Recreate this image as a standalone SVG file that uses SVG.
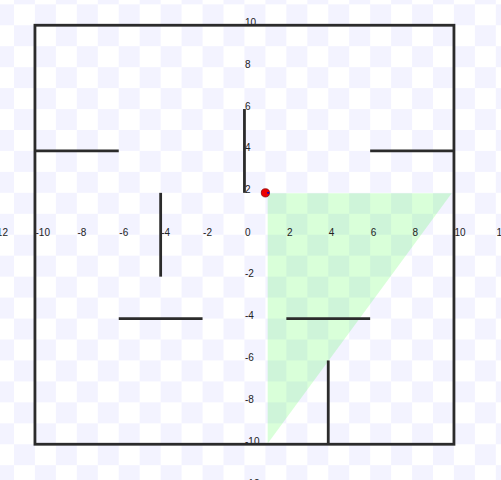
<svg xmlns="http://www.w3.org/2000/svg" width="501" height="480" viewBox="0 0 501 480">
<style>
.wall{stroke:#2b2b2b;stroke-width:2.8;fill:none;stroke-linecap:butt}
.lbl{font-family:"Liberation Sans",Arial,sans-serif;font-size:10px;fill:#222}
</style>
<defs>
<pattern id="checker" patternUnits="userSpaceOnUse" x="244.45" y="192.85" width="41.9" height="41.9">
<rect x="0" y="0" width="41.9" height="41.9" fill="#ffffff"/>
<rect x="20.95" y="0" width="20.95" height="20.95" fill="#f3f3ff"/>
<rect x="0" y="20.95" width="20.95" height="20.95" fill="#f3f3ff"/>
</pattern>
</defs>
<rect id="background" x="0" y="0" width="501" height="480" fill="url(#checker)"/>
<g id="view-cone">
<polygon points="267.7,193.3 451.7,193.3 267.7,443.5" fill="#00ff00" fill-opacity="0.15"/>
</g>
<g id="labels" class="lbl">
<text x="-6.5" y="235.5">-12</text>
<text x="35.5" y="235.5">-10</text>
<text x="77.4" y="235.5">-8</text>
<text x="119.3" y="235.5">-6</text>
<text x="161.2" y="235.5">-4</text>
<text x="203.1" y="235.5">-2</text>
<text x="245" y="235.5">0</text>
<text x="286.9" y="235.5">2</text>
<text x="328.8" y="235.5">4</text>
<text x="370.7" y="235.5">6</text>
<text x="412.6" y="235.5">8</text>
<text x="454.5" y="235.5">10</text>
<text x="496.4" y="235.5">12</text>
<text x="245" y="25.75">10</text>
<text x="245" y="67.65">8</text>
<text x="245" y="109.55">6</text>
<text x="245" y="151.45">4</text>
<text x="245" y="193.35">2</text>
<text x="245" y="277.15">-2</text>
<text x="245" y="319.05">-4</text>
<text x="245" y="360.95">-6</text>
<text x="245" y="402.85">-8</text>
<text x="245" y="444.75">-10</text>
<text x="245" y="486.65">-12</text>
</g>
<g id="walls" class="wall">
<rect id="boundary" x="34.95" y="25.25" width="419" height="419"/>
<line id="wall-left-top" x1="34.95" y1="150.95" x2="118.75" y2="150.95"/>
<line id="wall-right-top" x1="370.15" y1="150.95" x2="453.95" y2="150.95"/>
<line id="wall-center-top" x1="244.45" y1="109.05" x2="244.45" y2="192.85"/>
<line id="wall-left-mid" x1="160.65" y1="192.85" x2="160.65" y2="276.65"/>
<line id="wall-left-low" x1="118.75" y1="318.55" x2="202.55" y2="318.55"/>
<line id="wall-right-low" x1="286.35" y1="318.55" x2="370.15" y2="318.55"/>
<line id="wall-bottom" x1="328.25" y1="360.45" x2="328.25" y2="444.25"/>
</g>
<g id="robot">
<circle cx="265.4" cy="192.85" r="4.1" fill="#ee0000" stroke="#880000" stroke-width="0.8"/>
<line x1="267.2" y1="192.85" x2="269.2" y2="192.85" stroke="#0000cc" stroke-width="1.6"/>
</g>
</svg>
